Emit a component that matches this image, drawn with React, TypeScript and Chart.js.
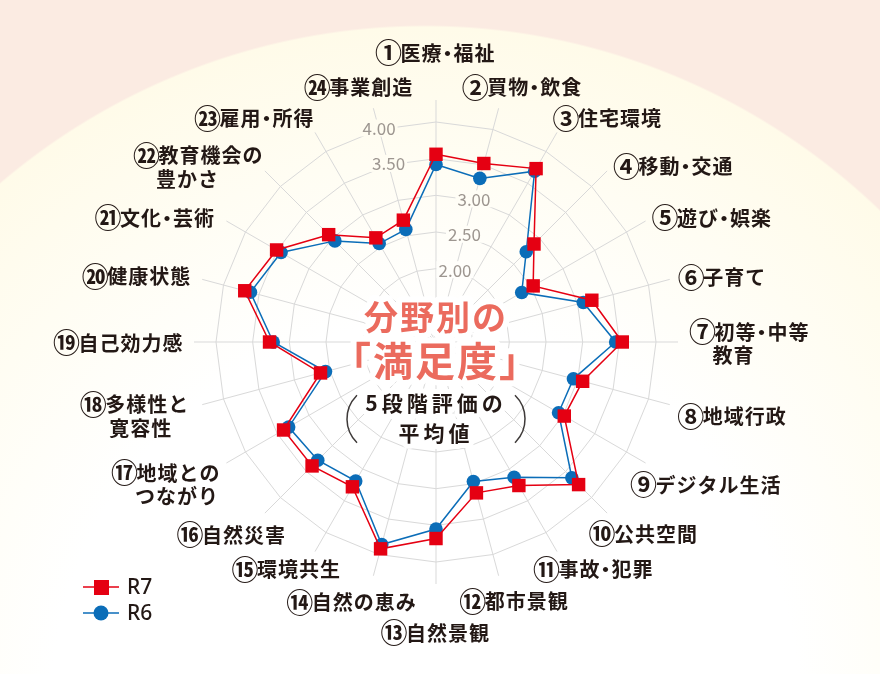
import React, { useEffect, useRef } from "react";
import { Chart, registerables } from "chart.js";

Chart.register(...registerables);

// 24 fields, clockwise from the top
const CATEGORIES: string[][] = [
  ["①医療・福祉"],
  ["②買物・飲食"],
  ["③住宅環境"],
  ["④移動・交通"],
  ["⑤遊び・娯楽"],
  ["⑥子育て"],
  ["⑦初等・中等", "教育"],
  ["⑧地域行政"],
  ["⑨デジタル生活"],
  ["⑩公共空間"],
  ["⑪事故・犯罪"],
  ["⑫都市景観"],
  ["⑬自然景観"],
  ["⑭自然の恵み"],
  ["⑮環境共生"],
  ["⑯自然災害"],
  ["⑰地域との", "つながり"],
  ["⑱多様性と", "寛容性"],
  ["⑲自己効力感"],
  ["⑳健康状態"],
  ["㉑文化・芸術"],
  ["㉒教育機会の", "豊かさ"],
  ["㉓雇用・所得"],
  ["㉔事業創造"],
];

const SERIES_NAMES = ["R7", "R6"];
const R7 = [3.56, 3.52, 3.73, 2.89, 2.53, 3.2, 3.54, 3.07, 3.02, 3.75, 3.26, 3.13, 3.68, 3.92, 3.28, 3.39, 3.4, 2.63, 3.27, 3.7, 3.51, 3.07, 2.64, 2.72];
const R6 = [3.42, 3.31, 3.69, 2.74, 2.35, 3.08, 3.45, 2.94, 2.93, 3.62, 3.13, 2.97, 3.55, 3.86, 3.19, 3.28, 3.32, 2.56, 3.22, 3.62, 3.44, 2.95, 2.55, 2.59];

const TICK_VALUES = [2, 2.5, 3, 3.5, 4];
const TICK_LABELS = ["2.00", "2.50", "3.00", "3.50", "4.00"];
// spoke on which each tick label sits
const TICK_SPOKE = [1, 1, 1, 23, 23];

const TITLE = ["分野別の", "「満足度」"];
const SUBTITLE = ["5段階評価の", "平均値"];

const RED = "#e50012";
const BLUE = "#0b6db8";
const GRID = "#d9d9d9";
const INK = "#231815";

// label nudges from the end of each spoke, one pair per text line
const LABEL_NUDGE: number[][][] = [
  [[0, -47]], [[24, -21]], [[51, -14]], [[67, -4]], [[67, -3]], [[53, -2]],
  [[72, -10], [55, 13]], [[63, 12]], [[61, 22]], [[37, 21]], [[37, 18]], [[16, 26]],
  [[0, 49]], [[-21, 27]], [[-28, 18]], [[-33, 22]], [[-60, 10], [-50, 33]], [[-67, 0], [-62, 24]],
  [[-75, 1]], [[-65, -3]], [[-71, -3]], [[-66, -15], [-78, 9]], [[-60, -14]], [[-14, -21]],
];

const JP = '"Noto Sans CJK JP", "Noto Sans", sans-serif';

// soft cream ellipse over a pink page
const BG = { cx: 425, cy: 705, rx: 665, ry: 680 };

function fillBackground(ctx: CanvasRenderingContext2D, x: number, y: number, w: number, h: number) {
  const k = BG.rx / BG.ry;
  ctx.save();
  ctx.translate(BG.cx, BG.cy);
  ctx.scale(k, 1);
  const g = ctx.createRadialGradient(0, 0, 0, 0, 0, BG.ry);
  g.addColorStop(0, "#ffffff");
  g.addColorStop(0.56, "#ffffff");
  g.addColorStop(0.8, "#fffdf3");
  g.addColorStop(0.997, "#fffbe9");
  g.addColorStop(1, "#fbebe2");
  ctx.fillStyle = g;
  ctx.fillRect((x - BG.cx) / k, y - BG.cy, w / k, h);
  ctx.restore();
}

const backgroundPlugin = {
  id: "bg",
  beforeDraw(chart: any) {
    const { ctx, width, height } = chart;
    ctx.save();
    ctx.fillStyle = "#fbebe2";
    ctx.fillRect(0, 0, width, height);
    ctx.restore();
    fillBackground(ctx, 0, 0, width, height);
  },
};

const CIRCLED = /[\u2460-\u2473\u3251-\u325f]/;

// one label line: bigger circled number, tight middle dot
function drawLabelLine(ctx: CanvasRenderingContext2D, text: string, cx: number, cy: number) {
  const parts = Array.from(text).map((ch) => {
    if (CIRCLED.test(ch)) return { ch, font: `bold 27px ${JP}`, adv: 23 };
    if (ch === "・") return { ch, font: `bold 20px ${JP}`, adv: 11 };
    return { ch, font: `bold 20px ${JP}`, adv: 21 };
  });
  const total = parts.reduce((a, p) => a + p.adv, 0);
  let x = cx - total / 2;
  parts.forEach((p) => {
    ctx.font = p.font;
    ctx.fillText(p.ch, x + p.adv / 2, cy);
    x += p.adv;
  });
}

const centerTextPlugin = {
  id: "centerText",
  beforeDatasetsDraw(chart: any) {
    const { ctx } = chart;
    const s = chart.scales.r;
    const cx = s.xCenter;
    const cy = s.yCenter;
    ctx.save();
    ctx.textAlign = "center";
    ctx.textBaseline = "middle";
    ctx.lineJoin = "round";

    const put = (text: string, y: number, font: string, color: string, spacing: string, halo: number) => {
      ctx.font = font;
      (ctx as any).letterSpacing = spacing;
      ctx.strokeStyle = "#ffffff";
      ctx.lineWidth = halo;
      ctx.strokeText(text, cx, cy + y);
      ctx.fillStyle = color;
      ctx.fillText(text, cx, cy + y);
    };
    put(TITLE[0], -25, `bold 34px ${JP}`, "#eb6b5e", "2px", 12);
    put(TITLE[1], 19, `bold 40px ${JP}`, "#eb6b5e", "2px", 12);
    put(SUBTITLE[0], 61, `bold 21px ${JP}`, INK, "4px", 10);
    put(SUBTITLE[1], 91, `bold 21px ${JP}`, INK, "4px", 10);

    // round brackets around the subtitle
    ctx.strokeStyle = "#3e3a39";
    ctx.lineWidth = 1.5;
    ctx.beginPath();
    ctx.arc(cx - 56, cy + 77, 33, Math.PI - 0.8, Math.PI + 0.8);
    ctx.stroke();
    ctx.beginPath();
    ctx.arc(cx + 56, cy + 77, 33, -0.8, 0.8);
    ctx.stroke();
    ctx.restore();
  },
};

const labelsPlugin = {
  id: "labels",
  afterDatasetsDraw(chart: any) {
    const { ctx } = chart;
    const s = chart.scales.r;
    ctx.save();
    ctx.textAlign = "center";
    ctx.textBaseline = "middle";

    // tick values on the rings
    ctx.font = `17px ${JP}`;
    (ctx as any).letterSpacing = "0px";
    TICK_VALUES.forEach((v, k) => {
      const p = s.getPointPositionForValue(TICK_SPOKE[k], v);
      const w = ctx.measureText(TICK_LABELS[k]).width;
      fillBackground(ctx, p.x - w / 2 - 2, p.y - 10, w + 4, 17);
      ctx.fillStyle = "#9d9690";
      ctx.fillText(TICK_LABELS[k], p.x, p.y - 1);
    });

    // field names
    ctx.fillStyle = INK;
    CATEGORIES.forEach((lines, i) => {
      const end = s.getPointPosition(i, s.drawingArea);
      lines.forEach((line, j) => {
        const [dx, dy] = LABEL_NUDGE[i][j];
        drawLabelLine(ctx, line, end.x + dx, end.y + dy);
      });
    });

    // legend: line with marker, then name
    ctx.font = `500 21px "Noto Sans", ${JP}`;
    ctx.textAlign = "left";
    chart.data.datasets.forEach((ds: any, k: number) => {
      const y = 587 + k * 26;
      ctx.strokeStyle = ds.borderColor;
      ctx.lineWidth = 1.5;
      ctx.beginPath();
      ctx.moveTo(83, y);
      ctx.lineTo(119, y);
      ctx.stroke();
      ctx.fillStyle = ds.pointBackgroundColor;
      if (ds.pointStyle === "rect") {
        ctx.fillRect(94, y - 7, 15, 15);
      } else {
        ctx.beginPath();
        ctx.arc(101, y, 7.5, 0, Math.PI * 2);
        ctx.fill();
      }
      ctx.fillStyle = INK;
      ctx.fillText(ds.label, 127, y + 1);
    });
    ctx.restore();
  },
};

export default function App() {
  const canvasRef = useRef<HTMLCanvasElement | null>(null);
  const chartRef = useRef<any>(null);

  useEffect(() => {
    document.body.style.margin = "0";
    if (!canvasRef.current) return;
    if (chartRef.current) chartRef.current.destroy();

    chartRef.current = new Chart(canvasRef.current, {
      type: "radar",
      data: {
        labels: CATEGORIES.map((l) => l.join("")),
        datasets: [
          {
            label: SERIES_NAMES[0],
            data: R7,
            borderColor: RED,
            backgroundColor: RED,
            pointBackgroundColor: RED,
            pointBorderWidth: 0,
            pointStyle: "rect",
            pointRadius: 9.5,
            borderWidth: 1.5,
            fill: false,
          },
          {
            label: SERIES_NAMES[1],
            data: R6,
            borderColor: BLUE,
            backgroundColor: BLUE,
            pointBackgroundColor: BLUE,
            pointBorderWidth: 0,
            pointStyle: "circle",
            pointRadius: 6.8,
            borderWidth: 1.5,
            fill: false,
          },
        ],
      },
      options: {
        responsive: false,
        animation: false,
        layout: { padding: { left: 194, right: 202, top: 100, bottom: 90 } },
        plugins: {
          legend: { display: false },
          title: { display: false },
          tooltip: { enabled: false },
        },
        elements: { line: { tension: 0 } },
        scales: {
          r: {
            min: 1,
            max: 4.3,
            ticks: { stepSize: 0.5, display: false },
            grid: {
              color: (c: any) => (c.tick && c.tick.value > 4.01 ? "rgba(0,0,0,0)" : GRID),
              lineWidth: 1,
            },
            angleLines: { color: GRID, lineWidth: 1 },
            pointLabels: { display: false },
          },
        },
      },
      plugins: [backgroundPlugin, centerTextPlugin, labelsPlugin],
    });

    return () => {
      if (chartRef.current) {
        chartRef.current.destroy();
        chartRef.current = null;
      }
    };
  }, []);

  return (
    <div style={{ position: "absolute", left: 0, top: 0, width: 880, height: 674 }}>
      <canvas ref={canvasRef} width={880} height={674}></canvas>
    </div>
  );
}
